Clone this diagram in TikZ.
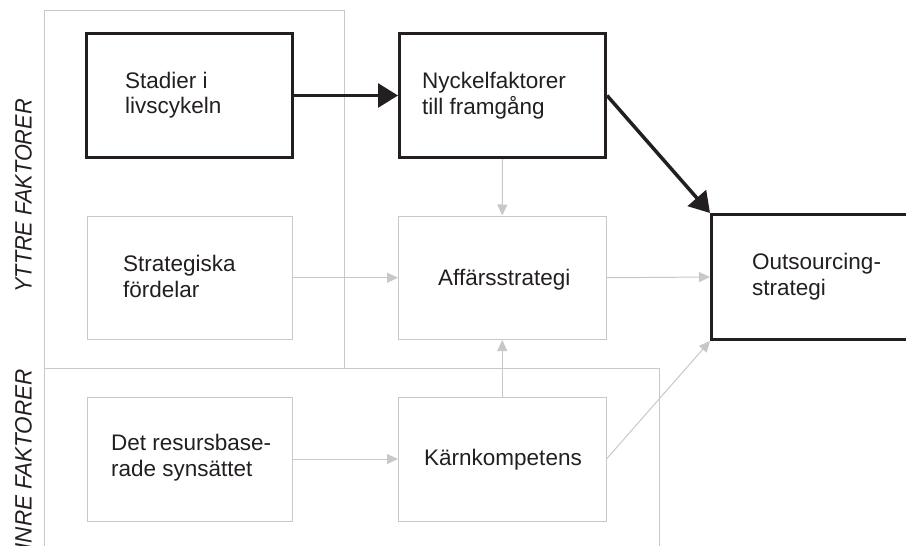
\documentclass[tikz,border=0pt]{standalone}
\usepackage{fontspec}
\setmainfont{Liberation Sans}
\usetikzlibrary{arrows.meta}
\definecolor{ink}{HTML}{231F20}
\definecolor{pale}{HTML}{C8C8C8}
\tikzset{
  boldbox/.style={draw=ink, line width=3pt, inner sep=0pt},
  palebox/.style={draw=pale, line width=1pt, inner sep=0pt},
  frame/.style={draw=pale, line width=1pt},
  txt/.style={text=ink, inner sep=0pt, align=left, anchor=base west,
    font=\fontsize{22.5}{25.5}\selectfont},
  lbl/.style={text=ink, inner sep=0pt, rotate=90,
    font=\fontsize{21.5}{24}\selectfont\itshape},
  boldarrow/.style={draw=ink, line width=3pt, -{Triangle[length=20pt,width=24pt]}},
  palearrow/.style={draw=pale, line width=1pt, -{Triangle[length=11pt,width=10pt]}}
}
\begin{document}
\begin{tikzpicture}[x=1pt,y=-1pt]
\useasboundingbox (0,0) rectangle (906,546);
\clip (0,0) rectangle (906,546);
% frames
\draw[frame] (44,10) rectangle (344,368);
\draw[frame] (44,368) -- (44,560);
\draw[frame] (344,368) -- (659,368) -- (659,560);
% labels
\node[lbl] (yttre) at (23.5,196) {\scalebox{1.01}[1.1]{YTTRE FAKTORER}};
\node[lbl, anchor=east] (inre) at (23.5,369) {\scalebox{1.045}[1.1]{INRE FAKTORER}};
% boxes
\node[boldbox, minimum width=205.5pt, minimum height=124pt] (stad) at (189.25,95.5) {};
\node[boldbox, minimum width=206pt, minimum height=124pt] (nyck) at (502.5,95.5) {};
\node[palebox, minimum width=205.5pt, minimum height=123.5pt] (strat) at (189.75,277.75) {};
\node[palebox, minimum width=207.5pt, minimum height=123.5pt] (affar) at (502.25,277.75) {};
\node[boldbox, minimum width=218.5pt, minimum height=125pt] (outs) at (820.75,277) {};
\node[palebox, minimum width=205.5pt, minimum height=124pt] (det) at (189.75,459) {};
\node[palebox, minimum width=207.5pt, minimum height=124pt] (karn) at (502.25,459) {};
% texts (base anchor = baseline of the last line)
\node[txt] (tstad) at (125,113.5) {Stadier i\\livscykeln};
\node[txt] (tnyck) at (422,114) {Nyckelfaktorer\\till framgång};
\node[txt] (tstrat) at (123,297) {Strategiska\\fördelar};
\node[txt] (taffar) at (438,285) {Affärsstrategi};
\node[txt] (touts) at (752,295) {Outsourcing-\\strategi};
\node[txt] (tdet) at (111,476) {Det resursbase-\\rade synsättet};
\node[txt] (tkarn) at (424,465) {Kärnkompetens};
% connectors
\draw[boldarrow] (stad.east) -- (nyck.west);
\draw[boldarrow, line width=3.5pt] (nyck.east) -- (outs.north west);
\draw[palearrow] (nyck.south) -- (affar.north);
\draw[palearrow] (strat.east) -- (affar.west);
\draw[palearrow] (affar.east) -- (outs.west);
\draw[palearrow] (det.east) -- (karn.west);
\draw[palearrow] (karn.north) -- (affar.south);
\draw[palearrow] (karn.east) -- (outs.south west);
\end{tikzpicture}
\end{document}
